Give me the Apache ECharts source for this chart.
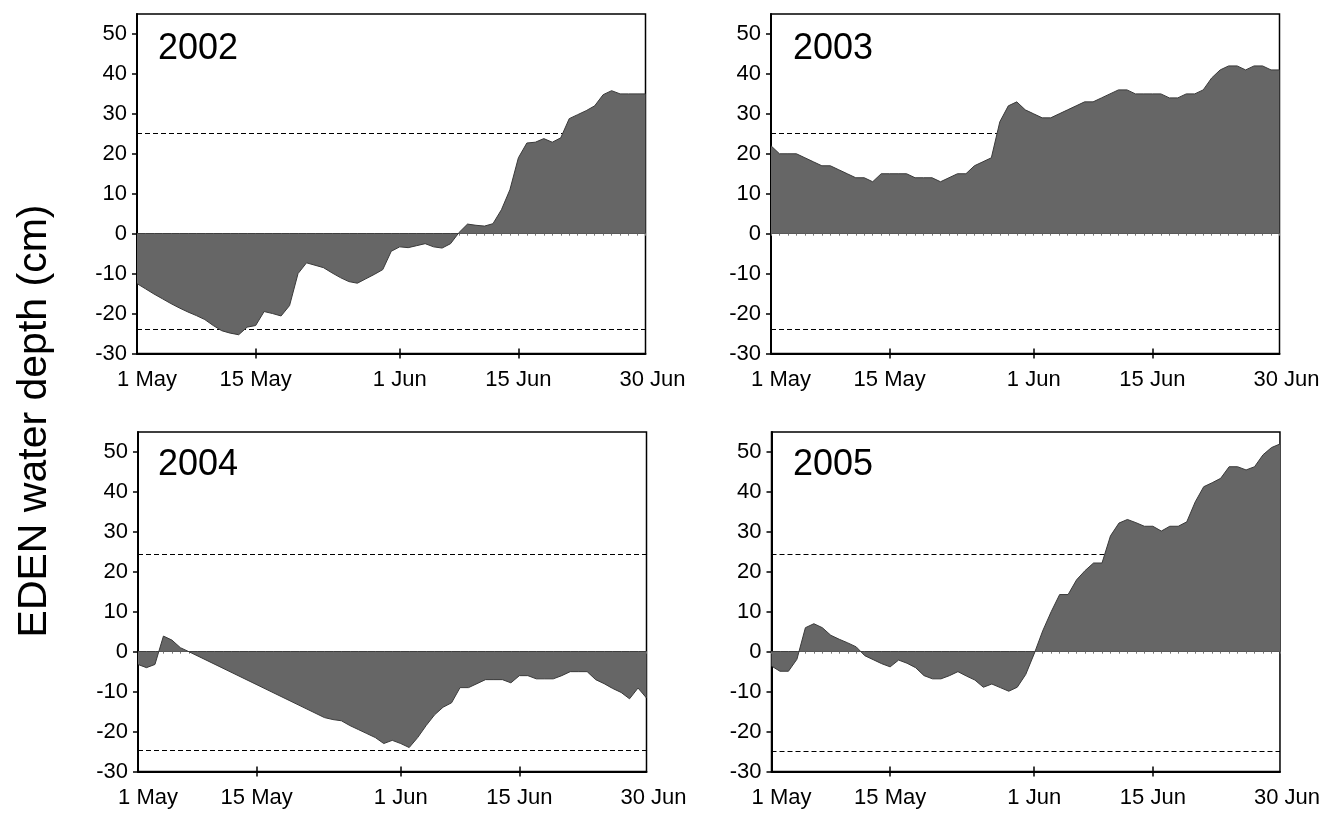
<!DOCTYPE html>
<html>
<head>
<meta charset="utf-8">
<title>EDEN water depth, May–June 2002–2005</title>
<script src="https://cdn.jsdelivr.net/npm/echarts@6/dist/echarts.min.js"></script>
<style>
  html, body { margin: 0; padding: 0; background: #fff; }
  #chart { width: 1323px; height: 813px; }
</style>
</head>
<body>
<div id="chart"></div>
<script>
// Daily categories, 1 May to 30 Jun
const months = [['May', 31], ['Jun', 30]];
const dates = [];
months.forEach(([m, n]) => { for (let d = 1; d <= n; d++) dates.push(d + ' ' + m); });

// Dates that carry a tick label
const labelDates = ['1 May', '15 May', '1 Jun', '15 Jun', '30 Jun'];
// Dates that carry a tick mark
const tickDates = ['15 May', '1 Jun', '15 Jun'];

const years = ['2002', '2003', '2004', '2005'];

// Daily water depth (cm)
const depth2002 = [
  -12.5, -13.8, -15.1, -16.3, -17.5, -18.6, -19.6, -20.5, -21.5, -23.0,
  -24.3, -24.9, -25.3, -23.4, -23.0, -19.5, -20.0, -20.6, -18.0, -10.0,
  -7.3, -7.9, -8.5, -9.8, -11.0, -12.0, -12.4, -11.3, -10.2, -9.0,
  -4.4, -3.3, -3.5, -3.0, -2.5, -3.3, -3.6, -2.5, 0.3, 2.4,
  2.1, 1.9, 2.5, 6.0, 11.0, 19.0, 22.7, 22.9, 23.8, 22.9,
  24.0, 28.8, 29.8, 30.8, 32.0, 34.8, 35.8, 35.0, 35.0, 35.0,
  35.0
];
const depth2003 = [
  22, 20, 20, 20, 19, 18, 17, 17, 16, 15,
  14, 14, 13, 15, 15, 15, 15, 14, 14, 14,
  13, 14, 15, 15, 17, 18, 19, 28, 32, 33,
  31, 30, 29, 29, 30, 31, 32, 33, 33, 34,
  35, 36, 36, 35, 35, 35, 35, 34, 34, 35,
  35, 36, 39, 41, 42, 42, 41, 42, 42, 41,
  41
];
// 8–22 May not recorded
const depth2004 = [
  -3.2, -4.0, -3.2, 3.9, 2.9, 1.0, 0.0, null, null, null,
  null, null, null, null, null, null, null, null, null, null,
  null, null, -16.5, -17.0, -17.3, -18.5, -19.5, -20.5, -21.5, -23.0,
  -22.2, -23.0, -24.0, -21.5, -18.5, -15.8, -13.9, -12.8, -9.0, -9.0,
  -8.0, -7.0, -7.0, -7.0, -7.8, -6.0, -6.0, -6.8, -6.8, -6.8,
  -6.0, -5.0, -5.0, -5.0, -7.0, -8.0, -9.2, -10.2, -11.8, -9.1,
  -11.6
];
const depth2005 = [
  -3.6, -4.9, -4.9, -1.9, 6.0, 7.0, 6.0, 4.1, 3.1, 2.2,
  1.2, -1.0, -2.0, -3.0, -3.8, -2.1, -2.9, -4.0, -6.0, -6.8,
  -6.8, -6.0, -5.0, -6.1, -7.1, -8.9, -8.1, -9.0, -9.9, -8.9,
  -5.7, -0.5, 5.2, 10.0, 14.3, 14.3, 18.0, 20.3, 22.2, 22.2,
  29.0, 32.2, 33.1, 32.3, 31.4, 31.4, 30.2, 31.4, 31.4, 32.5,
  37.5, 41.3, 42.3, 43.4, 46.3, 46.3, 45.5, 46.3, 49.3, 51.1,
  52.0
];

// Reference depths drawn as dashed lines (cm)
const upperLevel = [25.2, 25.2, 24.5, 24.5];
const lowerLevel = [-24.0, -24.0, -24.8, -24.9];

const seriesData = [depth2002, depth2003, depth2004, depth2005];

const FONT = '"Liberation Sans", Arial, Helvetica, sans-serif';
const TICK_FS = 22;

// Panel layout (pixels)
const panels = [
  { left: 137,   top: 14,  yearX: 158, yearY: 48 },
  { left: 771,   top: 14,  yearX: 793, yearY: 48 },
  { left: 138,   top: 432, yearX: 158, yearY: 464 },
  { left: 771.5, top: 432, yearX: 793, yearY: 464 }
];
const PW = 508.5, PH = 339.5;

const grid = [], xAxis = [], yAxis = [], series = [], graphic = [];

panels.forEach((p, g) => {
  grid.push({
    left: p.left, top: p.top, width: PW, height: PH,
    show: true, borderColor: '#000', borderWidth: 1.5, backgroundColor: 'transparent'
  });

  const base = {
    gridIndex: g, type: 'category', data: dates, boundaryGap: false,
    splitLine: { show: false }
  };
  // main x axis: bottom line, labels and outward ticks
  xAxis.push(Object.assign({}, base, {
    position: 'bottom',
    axisLine: { onZero: false, lineStyle: { color: '#000', width: 2 } },
    axisTick: {
      show: true, inside: false, length: 5, lineStyle: { color: '#000', width: 1.5 },
      interval: (i, v) => tickDates.includes(v)
    },
    axisLabel: {
      show: true, margin: 15, color: '#000', fontSize: TICK_FS, fontFamily: FONT,
      interval: (i, v) => labelDates.includes(v),
      formatter: (v, i) => i === 0 ? '{first|' + v + '}' : (i === dates.length - 1 ? '{last|' + v + '}' : v),
      rich: {
        first: { padding: [0, 0, 0, 20], fontSize: TICK_FS, fontFamily: FONT, color: '#000' },
        last: { padding: [0, 0, 0, 14], fontSize: TICK_FS, fontFamily: FONT, color: '#000' }
      }
    }
  }));
  // inward half of the crossing ticks
  xAxis.push(Object.assign({}, base, {
    position: 'bottom',
    axisLine: { show: false, onZero: false },
    axisTick: {
      show: true, inside: true, length: 5, lineStyle: { color: '#000', width: 1.5 },
      interval: (i, v) => tickDates.includes(v)
    },
    axisLabel: { show: false }
  }));
  // zero line with small daily ticks
  xAxis.push(Object.assign({}, base, {
    position: 'bottom',
    axisLine: { show: true, onZero: true, lineStyle: { color: '#333', width: 1 } },
    axisTick: { show: true, inside: false, length: 2, interval: 0, lineStyle: { color: '#777', width: 1 } },
    axisLabel: { show: false }
  }));

  yAxis.push({
    gridIndex: g, type: 'value', min: -30, max: 55, interval: 10,
    axisLine: { show: true, lineStyle: { color: '#000', width: 2 } },
    axisTick: { show: true, inside: false, length: 5, lineStyle: { color: '#000', width: 1.5 } },
    axisLabel: { show: true, showMaxLabel: false, margin: 10, color: '#000', fontSize: TICK_FS, fontFamily: FONT },
    splitLine: { show: false }
  });

  series.push({
    type: 'line',
    name: years[g],
    xAxisIndex: g * 3,
    yAxisIndex: g,
    data: seriesData[g],
    connectNulls: true,
    showSymbol: false,
    symbol: 'none',
    z: 3,
    lineStyle: { color: '#3a3a3a', width: 1 },
    areaStyle: { color: '#666666', opacity: 1 },
    markLine: {
      silent: true, symbol: 'none', z: 1,
      label: { show: false },
      lineStyle: { color: '#000', width: 1, type: [5, 3] },
      data: [{ yAxis: upperLevel[g] }, { yAxis: lowerLevel[g] }]
    }
  });

  graphic.push({
    type: 'text', left: p.yearX, top: p.yearY - 17,
    style: { text: years[g], fontSize: 36, fontFamily: FONT, fill: '#000' }
  });
});

graphic.push({
  type: 'text', x: 35, y: 421, rotation: Math.PI / 2,
  style: {
    text: 'EDEN water depth (cm)', fontSize: 41, fontFamily: FONT, fill: '#000',
    align: 'center', verticalAlign: 'middle'
  }
});

const chart = echarts.init(document.getElementById('chart'), null, { renderer: 'canvas' });
chart.setOption({
  animation: false,
  backgroundColor: '#fff',
  grid, xAxis, yAxis, series, graphic
});
</script>
</body>
</html>
